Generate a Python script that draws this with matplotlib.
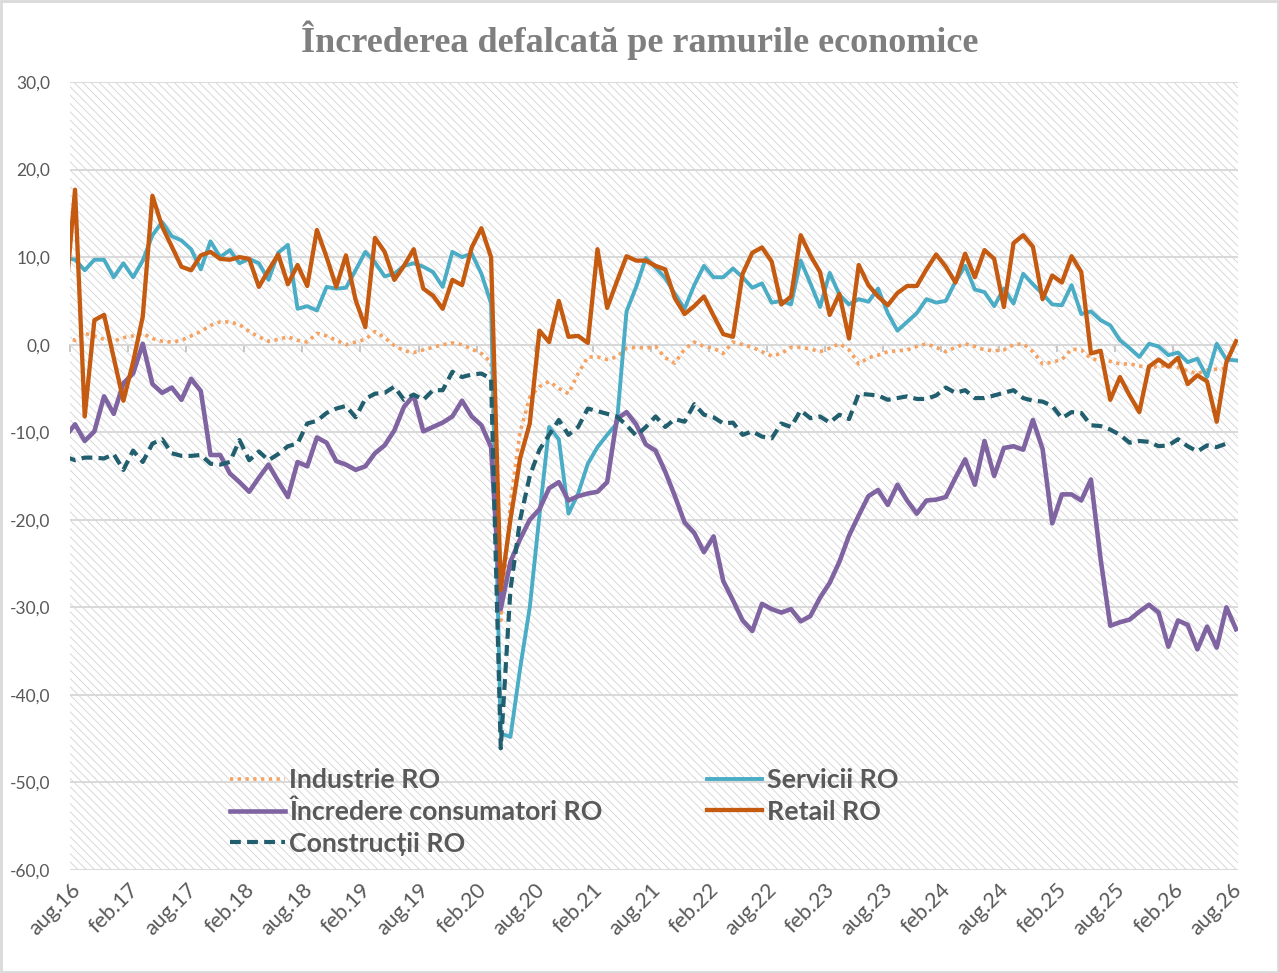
import numpy as np
import matplotlib
matplotlib.use('Agg')
import matplotlib.pyplot as plt
from matplotlib.patches import Rectangle

# month index: -1 = iul.16 (only partially visible), 0 = aug.16 ... 120 = aug.26
months = np.arange(-1, 121)

industrie = [0.8,
    0.5, 1.3, 1.0, 0.6, 0.4, 0.8, 1.0, 1.3, 0.7, 0.4,
    0.3, 0.5, 1.0, 1.5, 2.2, 2.6, 2.6, 2.3, 1.5, 0.9,
    0.4, 0.6, 0.9, 0.5, 0.3, 1.3, 1.0, 0.5, 0.0, 0.3,
    0.6, 1.5, 0.8, -0.1, -0.7, -0.9, -0.6, -0.3, 0.0, 0.2,
    0.0, -0.5, -1.0, -2.0, -31.5, -18.0, -10.0, -6.0, -4.8, -4.2,
    -5.0, -5.6, -3.3, -1.4, -1.4, -1.7, -1.4, -0.4, -0.3, -0.4,
    -0.2, -1.5, -2.1, -0.5, 0.3, -0.2, -0.4, -1.0, 0.3, 0.0,
    -0.3, -0.8, -1.3, -1.0, -0.3, -0.3, -0.5, -0.8, -0.4, 0.1,
    -0.6, -2.2, -1.5, -1.2, -0.8, -0.7, -0.6, -0.2, 0.1, -0.3,
    -0.8, -0.3, 0.1, -0.2, -0.6, -0.7, -0.6, 0.0, 0.1, -0.8,
    -2.2, -2.0, -1.7, -0.5, -0.6, -1.6, -1.8, -1.9, -2.2, -2.2,
    -2.4, -2.8, -2.4, -2.5, -2.6, -3.0, -3.3, -2.9, -2.8, -2.7,
    np.nan]

servicii = [9.9,
    9.7, 8.5, 9.7, 9.7, 7.7, 9.3, 7.7, 9.6, 12.5, 14.0,
    12.4, 11.9, 10.9, 8.6, 11.8, 10.0, 10.8, 9.3, 9.8, 9.3,
    7.4, 10.5, 11.4, 4.1, 4.4, 3.9, 6.6, 6.4, 6.5, 8.5,
    10.6, 9.4, 7.8, 8.1, 9.0, 9.3, 8.9, 8.3, 6.6, 10.6,
    10.0, 10.4, 8.1, 4.7, -44.4, -44.8, -37.0, -30.0, -19.5, -9.4,
    -10.8, -19.3, -17.0, -13.6, -11.7, -10.3, -9.0, 3.8, 6.6, 9.9,
    8.8, 7.6, 5.8, 4.1, 6.8, 9.0, 7.7, 7.7, 8.7, 7.7,
    6.5, 7.0, 4.8, 5.0, 4.6, 9.6, 7.0, 4.3, 8.2, 5.7,
    4.6, 5.2, 4.9, 6.4, 3.6, 1.6, 2.6, 3.6, 5.2, 4.8,
    5.0, 7.2, 9.0, 6.3, 6.0, 4.4, 6.4, 4.7, 8.1, 6.9,
    5.8, 4.6, 4.5, 6.8, 3.5, 3.8, 2.8, 2.2, 0.5, -0.4,
    -1.4, 0.1, -0.2, -1.2, -0.9, -2.0, -1.6, -3.7, 0.1, -1.7,
    -1.8]

consumatori = [-10.5,
    -9.1, -11.0, -9.9, -5.9, -7.9, -4.4, -3.3, 0.1, -4.5, -5.5,
    -4.9, -6.3, -3.9, -5.3, -12.6, -12.6, -14.7, -15.7, -16.8, -15.2,
    -13.7, -15.6, -17.4, -13.4, -13.9, -10.6, -11.2, -13.3, -13.7, -14.3,
    -13.9, -12.4, -11.5, -9.8, -7.1, -5.8, -9.9, -9.4, -8.9, -8.2,
    -6.4, -8.2, -9.2, -11.7, -30.2, -24.8, -22.2, -20.0, -18.8, -16.4,
    -15.7, -17.8, -17.3, -17.0, -16.8, -15.7, -8.5, -7.7, -9.1, -11.4,
    -12.1, -14.5, -17.3, -20.3, -21.5, -23.7, -21.9, -27.0, -29.2, -31.5,
    -32.7, -29.6, -30.2, -30.6, -30.2, -31.6, -31.0, -28.9, -27.2, -24.8,
    -21.8, -19.5, -17.3, -16.6, -18.3, -16.0, -17.8, -19.3, -17.8, -17.7,
    -17.4, -15.2, -13.1, -16.0, -11.0, -15.0, -11.8, -11.6, -12.0, -8.6,
    -11.9, -20.4, -17.1, -17.1, -17.8, -15.4, -24.5, -32.1, -31.7, -31.4,
    -30.5, -29.7, -30.6, -34.5, -31.5, -32.0, -34.8, -32.2, -34.6, -30.0,
    -32.5]

retail = [5.0,
    17.7, -8.2, 2.8, 3.4, -1.5, -6.4, -2.0, 3.2, 17.0, 13.5,
    11.2, 8.9, 8.5, 10.2, 10.6, 9.8, 9.7, 10.0, 9.8, 6.6,
    8.5, 10.3, 6.9, 9.1, 6.7, 13.1, 10.0, 6.6, 10.2, 5.1,
    2.0, 12.2, 10.6, 7.4, 9.0, 10.9, 6.4, 5.6, 4.1, 7.4,
    6.8, 11.1, 13.3, 10.0, -28.0, -20.0, -13.0, -9.0, 1.6, 0.3,
    5.0, 0.9, 1.0, 0.2, 10.9, 4.2, 7.2, 10.1, 9.6, 9.6,
    9.0, 8.6, 5.3, 3.5, 4.4, 5.5, 3.3, 1.2, 0.9, 8.1,
    10.5, 11.1, 9.5, 4.6, 5.5, 12.5, 10.2, 8.3, 3.4, 5.8,
    0.7, 9.1, 6.8, 5.5, 4.5, 5.9, 6.7, 6.7, 8.6, 10.3,
    8.9, 7.1, 10.4, 7.7, 10.8, 9.8, 4.3, 11.6, 12.5, 11.2,
    5.2, 7.9, 7.1, 10.1, 8.3, -1.0, -0.7, -6.3, -3.7, -5.8,
    -7.7, -2.5, -1.7, -2.5, -1.5, -4.5, -3.5, -4.2, -8.8, -2.0,
    0.4]

constructii = [-12.8,
    -13.2, -12.9, -12.9, -13.0, -12.5, -14.3, -12.1, -13.4, -11.3, -10.8,
    -12.4, -12.7, -12.7, -12.6, -13.6, -13.7, -13.4, -10.9, -13.2, -12.2,
    -13.2, -12.5, -11.6, -11.3, -9.0, -8.7, -7.8, -7.3, -7.0, -8.3,
    -6.2, -5.6, -5.5, -4.8, -6.3, -5.7, -6.3, -5.2, -5.2, -3.1,
    -3.7, -3.4, -3.3, -3.9, -46.1, -28.0, -20.0, -15.0, -12.0, -10.3,
    -8.6, -10.3, -9.4, -7.3, -7.6, -7.9, -8.2, -9.2, -10.4, -9.4,
    -8.2, -9.4, -8.5, -8.8, -6.8, -8.0, -8.3, -9.0, -8.9, -10.3,
    -9.9, -10.5, -10.7, -9.0, -9.4, -7.5, -8.4, -8.2, -8.9, -8.0,
    -8.5, -5.6, -5.7, -5.8, -6.3, -6.1, -5.9, -6.2, -6.2, -5.8,
    -4.9, -5.5, -5.2, -6.1, -6.1, -5.8, -5.5, -5.2, -6.1, -6.4,
    -6.5, -7.0, -8.4, -7.7, -7.8, -9.2, -9.3, -9.7, -10.3, -11.2,
    -11.0, -11.1, -11.6, -11.5, -10.8, -11.6, -12.2, -11.5, -11.7, -11.3,
    np.nan]

tick_labels = ['aug.16', 'feb.17', 'aug.17', 'feb.18', 'aug.18', 'feb.19',
               'aug.19', 'feb.20', 'aug.20', 'feb.21', 'aug.21', 'feb.22',
               'aug.22', 'feb.23', 'aug.23', 'feb.24', 'aug.24', 'feb.25',
               'aug.25', 'feb.26', 'aug.26']
y_ticks = [-60, -50, -40, -30, -20, -10, 0, 10, 20, 30]

title = 'Încrederea defalcată pe ramurile economice'

# ---------------------------------------------------------------- style
plt.rcParams['font.family'] = ['Lato', 'DejaVu Sans']
plt.rcParams['hatch.linewidth'] = 0.6
text_gray = '#595959'
grid_gray = '#d9d9d9'

fig = plt.figure(figsize=(12.79, 9.73), dpi=100)
fig.patch.set_facecolor('white')
ax = fig.add_axes([70 / 1279, 1 - 870 / 973, (1238 - 70) / 1279, (870 - 82) / 973])

# hatched background
ax.patch.set_visible(False)
ax.add_patch(Rectangle((0, 0), 1, 1, transform=ax.transAxes, facecolor='white',
                       edgecolor='#d2d2d2', hatch='\\\\\\\\', lw=0, zorder=0))

ax.set_xlim(-0.52, 120.2)
ax.set_ylim(-60, 30)

for v in y_ticks:
    ax.axhline(v, color=grid_gray, lw=1.4, zorder=0.5)

ax.set_yticks(y_ticks)
ax.set_yticklabels([f'{v:.1f}'.replace('.', ',') for v in y_ticks],
                   fontsize=12.5, color=text_gray)
ax.tick_params(axis='y', length=0, pad=14)

tick_pos = [-0.5 + 6 * k for k in range(len(tick_labels))]
ax.set_xticks([p + 0.7 for p in tick_pos])
ax.set_xticklabels(tick_labels, rotation=45, ha='right', va='center',
                   rotation_mode='anchor', fontsize=15.5, color=text_gray)
ax.tick_params(axis='x', length=0, pad=12)
for s in ax.spines.values():
    s.set_visible(False)

# category axis crossing at zero, with its tick marks
sec = ax.secondary_xaxis(2 / 3)
sec.set_alignment('bottom')
sec.set_xticks(tick_pos)
sec.set_xticklabels([])
sec.tick_params(axis='x', direction='out', length=5, width=1.2, color='#bfbfbf')
for s in sec.spines.values():
    s.set_visible(False)
sec.spines['bottom'].set_visible(True)
sec.spines['bottom'].set_color('#cfcfcf')
sec.spines['bottom'].set_linewidth(1.4)

# ---------------------------------------------------------------- series
h_ind, = ax.plot(months, industrie, color='#F5A262', lw=2.6,
                 linestyle=(0, (0.9, 1.25)), label='Industrie RO', zorder=3)
h_ser, = ax.plot(months, servicii, color='#4BACC6', lw=2.8,
                 label='Servicii RO', zorder=3)
h_con, = ax.plot(months, consumatori, color='#8064A2', lw=3.3,
                 label='Încredere consumatori RO', zorder=3)
h_ret, = ax.plot(months, retail, color='#C55A11', lw=3.1,
                 label='Retail RO', zorder=3)
h_cst, = ax.plot(months, constructii, color='#215E6E', lw=3.0,
                 linestyle=(0, (2.6, 1.5)), label='Construcții RO', zorder=3)

leg = ax.legend(handles=[h_ind, h_con, h_cst, h_ser, h_ret], ncol=2,
                loc='upper left', bbox_to_anchor=(0.116, 0.1595),
                frameon=False, handlelength=2.05, handletextpad=0.18,
                columnspacing=3.9, labelspacing=0.275,
                prop={'family': ['Lato', 'DejaVu Sans'], 'weight': 'bold', 'size': 19.3})
for t in leg.get_texts():
    t.set_color(text_gray)

fig.text(0.5, 1 - 40 / 973, title, ha='center', va='center',
         fontsize=26, fontweight='bold', color='#7f7f7f',
         family=['Liberation Serif', 'DejaVu Serif'])

fig.patches.append(Rectangle((0.0008, 0.001), 0.9984, 0.998, transform=fig.transFigure,
                             fill=False, edgecolor='#d9d9d9', lw=2))

fig.savefig('out.png', dpi=100)
